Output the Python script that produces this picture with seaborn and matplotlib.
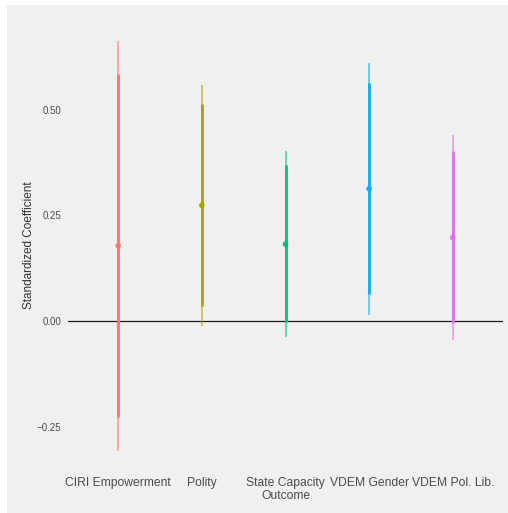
import matplotlib
matplotlib.use("Agg")
import matplotlib.pyplot as plt
from matplotlib.patches import Rectangle
import seaborn as sns
import pandas as pd

# Model outcomes and their standardized coefficient estimates
outcomes = ["CIRI Empowerment", "Polity", "State Capacity\nOutcome", "VDEM Gender", "VDEM Pol. Lib."]
estimate = [0.179, 0.274, 0.182, 0.313, 0.198]
# 90% intervals (thick) and 95% intervals (thin)
ci90_low = [-0.227, 0.036, -0.002, 0.064, -0.004]
ci90_high = [0.585, 0.512, 0.368, 0.563, 0.401]
ci95_low = [-0.305, -0.010, -0.038, 0.016, -0.043]
ci95_high = [0.663, 0.558, 0.403, 0.611, 0.441]
yticks = [-0.25, 0.0, 0.25, 0.50]

palette = ["#F8766D", "#A3A500", "#00BF7D", "#00B0F6", "#E76BF3"]

df = pd.DataFrame({
    "outcome": outcomes,
    "estimate": estimate,
    "lo90": ci90_low, "hi90": ci90_high,
    "lo95": ci95_low, "hi95": ci95_high,
})

sns.set_theme(style="white")
plt.rcParams["font.family"] = ["Liberation Sans", "DejaVu Sans"]

fig = plt.figure(figsize=(5.08, 5.13), dpi=100)
fig.patch.set_facecolor("white")
fig.patches.append(Rectangle((7 / 508, 0), 1 - 7 / 508, 1 - 5 / 513,
                             transform=fig.transFigure, facecolor="#F0F0F0",
                             edgecolor="none", zorder=-10))
ax = fig.add_axes([68 / 508, 1 - 471 / 513, 435 / 508, 451 / 513])
ax.set_facecolor("#F0F0F0")

ax.axhline(0, color="#1A1A1A", lw=0.9, zorder=1)

for i, row in df.iterrows():
    c = palette[i]
    ax.vlines(i, row["lo95"], row["hi95"], color=c, lw=1.3, alpha=0.6, zorder=2)
    ax.vlines(i, row["lo90"], row["hi90"], color=c, lw=2.2, alpha=0.9, zorder=3)

sns.scatterplot(data=df, x="outcome", y="estimate", hue="outcome", palette=palette,
                s=16, marker="o", edgecolor="none", legend=False, ax=ax, zorder=4)

ax.set_xlim(-0.6, 4.6)
lo = min(ci95_low); hi = max(ci95_high)
pad = (hi - lo) * 0.05
ax.set_ylim(lo - pad, hi + pad)
ax.set_yticks(yticks)
ax.set_yticklabels(["\u22120.25", "0.00", "0.25", "0.50"])
ax.tick_params(axis="y", length=0, pad=5, labelsize=7, labelcolor="#4D4D4D")
ax.tick_params(axis="x", length=0, pad=4, labelsize=8.7, labelcolor="#4D4D4D")
ax.set_xlabel("")
ax.set_ylabel("Standardized Coefficient", fontsize=8.5, color="#333333", labelpad=1)
for s in ax.spines.values():
    s.set_visible(False)
ax.grid(False)

fig.savefig("out.png", dpi=100, facecolor=fig.get_facecolor())
